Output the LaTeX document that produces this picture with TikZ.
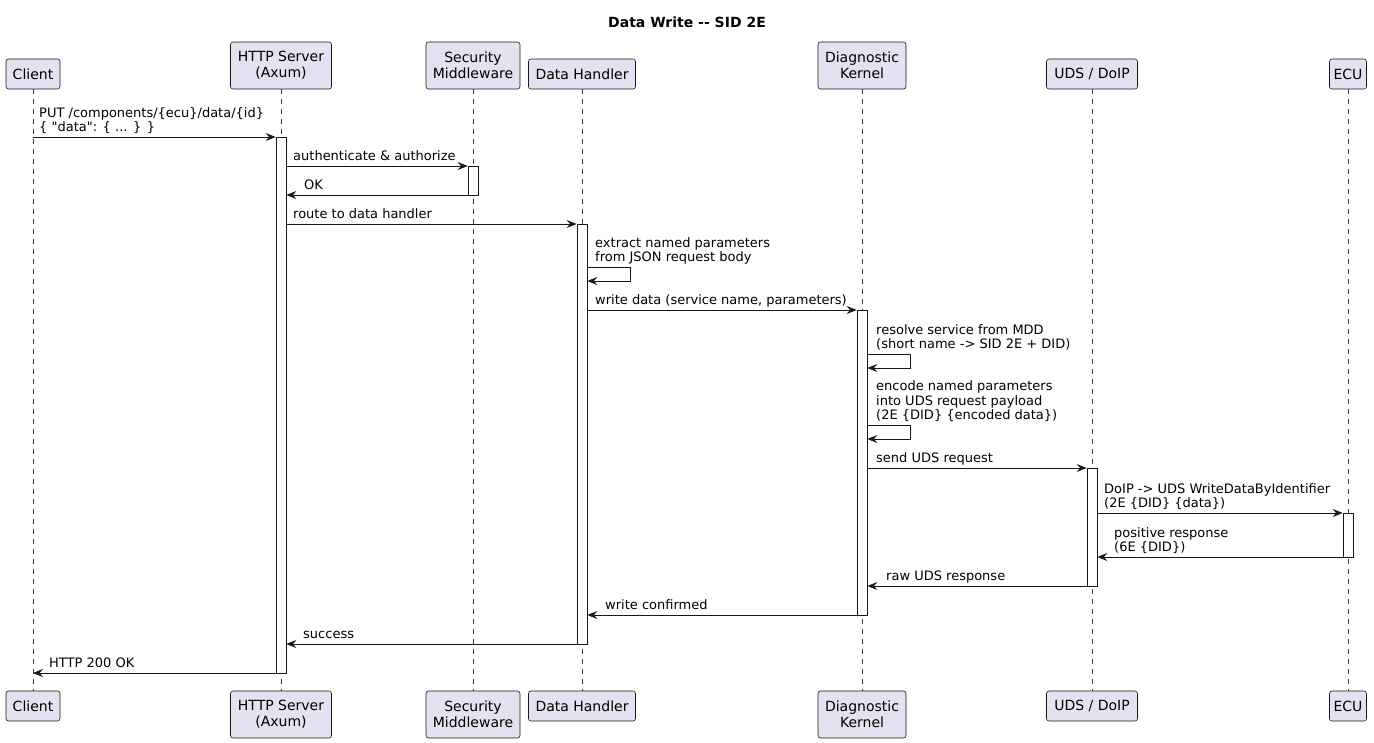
\documentclass[tikz,border=0pt]{standalone}
\usepackage{fontspec}
\setmainfont{DejaVu Sans}[Ligatures=TeXOff]
\usetikzlibrary{arrows.meta}
\definecolor{pfill}{HTML}{E2E2F0}
\definecolor{pline}{HTML}{181818}
\begin{document}
\begin{tikzpicture}[x=1pt,y=-1pt,
  part/.style={draw=pline, fill=pfill, rounded corners=2.5pt, align=center, inner sep=0pt, line width=0.6pt, font=\fontsize{14}{16}\selectfont},
  life/.style={draw=pline!85, line width=0.5pt, dash pattern=on 5pt off 5pt},
  act/.style={draw=pline, fill=white, minimum width=10pt, inner sep=0pt, line width=0.7pt, anchor=north},
  msg/.style={draw=pline, line width=0.8pt, -{Stealth[length=10pt,width=8pt,inset=3.5pt]}},
  lbl/.style={inner sep=0pt, align=left, anchor=south west, text=black, font=\fontsize{13}{14.6}\selectfont}]
\useasboundingbox (0,0) rectangle (1374,742);
% title
\node[font=\bfseries\fontsize{14}{16}\selectfont] (title) at (687,22) {Data Write -{}- SID 2E};
% lifeline x positions
\coordinate (lcl) at (33,0);
\coordinate (lhs) at (281,0);
\coordinate (lsm) at (473,0);
\coordinate (ldh) at (582,0);
\coordinate (ldk) at (862,0);
\coordinate (lud) at (1092,0);
\coordinate (lec) at (1348,0);
% lifelines
\foreach \c in {lcl,lhs,lsm,ldh,ldk,lud,lec}{
  \draw[life] (\c |- 0,89) -- (\c |- 0,691);
}
% participants top
\node[part, minimum width=54pt, minimum height=30pt] (tcl) at (lcl |- 0,74) {Client};
\node[part, minimum width=101pt, minimum height=47pt] (ths) at (lhs |- 0,65.5) {HTTP Server\\(Axum)};
\node[part, minimum width=94pt, minimum height=47pt] (tsm) at (lsm |- 0,65.5) {Security\\Middleware};
\node[part, minimum width=107pt, minimum height=30pt] (tdh) at (ldh |- 0,74) {Data Handler};
\node[part, minimum width=88pt, minimum height=47pt] (tdk) at (ldk |- 0,65.5) {Diagnostic\\Kernel};
\node[part, minimum width=91pt, minimum height=30pt] (tud) at (lud |- 0,74) {UDS / DoIP};
\node[part, minimum width=37pt, minimum height=30pt] (tec) at (lec |- 0,74) {ECU};
% participants bottom
\node[part, minimum width=54pt, minimum height=30pt] (bcl) at (lcl |- 0,706) {Client};
\node[part, minimum width=101pt, minimum height=47pt] (bhs) at (lhs |- 0,714.5) {HTTP Server\\(Axum)};
\node[part, minimum width=94pt, minimum height=47pt] (bsm) at (lsm |- 0,714.5) {Security\\Middleware};
\node[part, minimum width=107pt, minimum height=30pt] (bdh) at (ldh |- 0,706) {Data Handler};
\node[part, minimum width=88pt, minimum height=47pt] (bdk) at (ldk |- 0,714.5) {Diagnostic\\Kernel};
\node[part, minimum width=91pt, minimum height=30pt] (bud) at (lud |- 0,706) {UDS / DoIP};
\node[part, minimum width=37pt, minimum height=30pt] (bec) at (lec |- 0,706) {ECU};
% activations
\node[act, minimum height=536pt] (ahs) at (lhs |- 0,137) {};
\node[act, minimum height=29pt] (asm) at (lsm |- 0,166) {};
\node[act, minimum height=420pt] (adh) at (ldh |- 0,224) {};
\node[act, minimum height=305pt] (adk) at (ldk |- 0,310) {};
\node[act, minimum height=118pt] (aud) at (lud |- 0,468) {};
\node[act, minimum height=44pt] (aec) at (lec |- 0,513) {};
% 1
\draw[msg] (lcl |- 0,137) -- (ahs.west |- 0,137);
\node[lbl] (m1) at (39,136.5) {PUT /components/\{ecu\}/data/\{id\}\\\{ "data": \{ ... \} \}\strut};
% 2
\draw[msg] (ahs.east |- 0,166) -- (asm.west |- 0,166);
\node[lbl] (m2) at (293,165.5) {authenticate \& authorize\strut};
% 3
\draw[msg] (asm.west |- 0,195) -- (ahs.east |- 0,195);
\node[lbl] (m3) at (304,194.5) {OK\strut};
% 4
\draw[msg] (ahs.east |- 0,224) -- (adh.west |- 0,224);
\node[lbl] (m4) at (293,223.5) {route to data handler\strut};
% 5 self
\draw[msg] (adh.east |- 0,267) -- ++(43,0) -- ++(0,14) -- (adh.east |- 0,281);
\node[lbl] (m5) at (595,266.5) {extract named parameters\\from JSON request body\strut};
% 6
\draw[msg] (adh.east |- 0,310) -- (adk.west |- 0,310);
\node[lbl] (m6) at (595,309.5) {write data (service name, parameters)\strut};
% 7 self
\draw[msg] (adk.east |- 0,354) -- ++(43,0) -- ++(0,14) -- (adk.east |- 0,368);
\node[lbl] (m7) at (876,353.5) {resolve service from MDD\\(short name -> SID 2E + DID)\strut};
% 8 self
\draw[msg] (adk.east |- 0,425) -- ++(43,0) -- ++(0,14) -- (adk.east |- 0,439);
\node[lbl] (m8) at (876,424.5) {encode named parameters\\into UDS request payload\\(2E \{DID\} \{encoded data\})\strut};
% 9
\draw[msg] (adk.east |- 0,468) -- (aud.west |- 0,468);
\node[lbl] (m9) at (876,467.5) {send UDS request\strut};
% 10
\draw[msg] (aud.east |- 0,513) -- (aec.west |- 0,513);
\node[lbl] (m10) at (1104,512.5) {DoIP -> UDS WriteDataByIdentifier\\(2E \{DID\} \{data\})\strut};
% 11
\draw[msg] (aec.west |- 0,557) -- (aud.east |- 0,557);
\node[lbl] (m11) at (1114,556.5) {positive response\\(6E \{DID\})\strut};
% 12
\draw[msg] (aud.west |- 0,586) -- (adk.east |- 0,586);
\node[lbl] (m12) at (886,585.5) {raw UDS response\strut};
% 13
\draw[msg] (adk.west |- 0,615) -- (adh.east |- 0,615);
\node[lbl] (m13) at (605,614.5) {write confirmed\strut};
% 14
\draw[msg] (adh.west |- 0,644) -- (ahs.east |- 0,644);
\node[lbl] (m14) at (303,643.5) {success\strut};
% 15
\draw[msg] (ahs.west |- 0,673) -- (lcl |- 0,673);
\node[lbl] (m15) at (49,672.5) {HTTP 200 OK\strut};
\end{tikzpicture}
\end{document}
